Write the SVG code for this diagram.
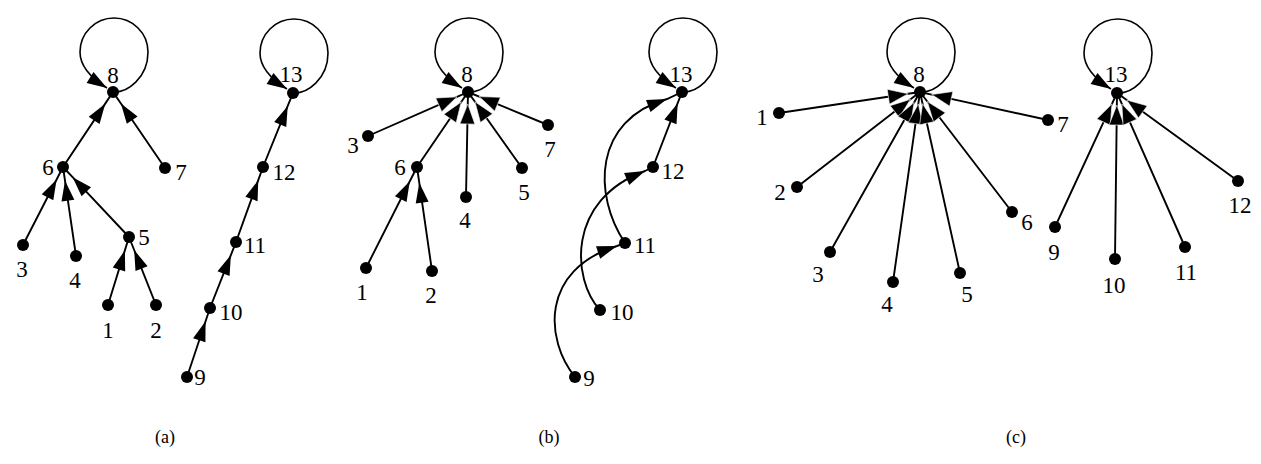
<svg xmlns="http://www.w3.org/2000/svg" width="1261" height="464" viewBox="0 0 1261 464">
<style>
.e{fill:none;stroke:#000;stroke-width:1.9;marker-mid:url(#ah)}
.ew{fill:none;stroke:#000;stroke-width:1.9;marker-mid:url(#ahw)}
.lp{fill:none;stroke:#000;stroke-width:1.6;marker-end:url(#ah)}
.n circle{fill:#000}
.n text,.cap{font-family:"Liberation Serif","Times New Roman",serif;font-size:23px;fill:#000;text-anchor:middle}
.cap{font-size:18px}
</style>
<defs>
<marker id="ah" markerUnits="userSpaceOnUse" viewBox="0 0 20 13" refX="20" refY="6.5" markerWidth="20" markerHeight="13" orient="auto" overflow="visible"><path d="M0,0 L20,6.5 L0,13 z" fill="#000"/></marker>
<marker id="ahw" markerUnits="userSpaceOnUse" viewBox="0 0 20 15" refX="20" refY="7.5" markerWidth="20" markerHeight="15" orient="auto" overflow="visible"><path d="M0,0 L20,7.5 L0,15 z" fill="#000" stroke="#fff" stroke-width="0.6"/></marker>
</defs>
<g id="connectors">
<!-- panel a -->
<path class="e" d="M63,167 L105.23,103.65 L113,92"/>
<path class="e" d="M165,168 L120.91,103.55 L113,92"/>
<path class="e" d="M23,245 L56.62,179.45 L63,167"/>
<path class="e" d="M76,256 L65.03,180.86 L63,167"/>
<path class="e" d="M129,237 L72.6,177.19 L63,167"/>
<path class="e" d="M108,305 L124.87,250.37 L129,237"/>
<path class="e" d="M156,305 L134.17,250.01 L129,237"/>
<path class="e" d="M187,377 L205.58,321.29 L210,308"/>
<path class="e" d="M210,308 L230.86,255.03 L236,242"/>
<path class="e" d="M236,242 L258.25,180.17 L263,167"/>
<path class="e" d="M263,167 L287.74,105.98 L293,93"/>
<path class="lp" d="M113,92 C127,93 148,78 148,52 A34 34 0 0 0 80,52 C80,67 91,78 107,88"/>
<path class="lp" d="M293,93 C307,94 328,79 328,53 A34 34 0 0 0 260,53 C260,68 271,79 287,89"/>
<!-- panel b -->
<path class="ew" d="M368,136 L457.02,96.83 L468,92"/>
<path class="ew" d="M417,167 L461.25,101.92 L468,92"/>
<path class="ew" d="M466,197 L467.77,104 L468,92"/>
<path class="ew" d="M522,168 L474.95,101.79 L468,92"/>
<path class="ew" d="M548,125 L479.1,96.58 L468,92"/>
<path class="e" d="M366,268 L409.78,181.29 L417,167"/>
<path class="e" d="M432,271 L419.29,182.84 L417,167"/>
<path class="e" d="M653,167 L677.67,103.19 L682,92"/>
<path class="e" d="M575,377 C545,340 540,270 617,246 L625,243"/>
<path class="e" d="M600,310 C572,280 566,200 645,171 L653,167"/>
<path class="e" d="M625,243 C593,195 593,120 667,99 L682,92"/>
<path class="lp" d="M468,92 C482,93 503,78 503,52 A34 34 0 0 0 435,52 C435,67 446,78 462,88"/>
<path class="lp" d="M682,92 C696,93 717,78 717,52 A34 34 0 0 0 649,52 C649,67 660,78 676,88"/>
<!-- panel c -->
<path class="ew" d="M779,113 L908.13,93.77 L920,92"/>
<path class="ew" d="M797,187 L910.5,99.34 L920,92"/>
<path class="ew" d="M830,252 L914.12,102.46 L920,92"/>
<path class="ew" d="M893,282 L918.31,103.88 L920,92"/>
<path class="ew" d="M960,273 L922.59,103.72 L920,92"/>
<path class="ew" d="M1012,212 L927.3,101.52 L920,92"/>
<path class="ew" d="M1048,120 L931.72,94.57 L920,92"/>
<path class="ew" d="M1055,227 L1111.96,103.89 L1117,93"/>
<path class="ew" d="M1115,259 L1116.86,105 L1117,93"/>
<path class="ew" d="M1185,247 L1121.85,103.98 L1117,93"/>
<path class="ew" d="M1238,181 L1126.71,100.06 L1117,93"/>
<path class="lp" d="M920,92 C934,93 955,78 955,52 A34 34 0 0 0 887,52 C887,67 898,78 914,88"/>
<path class="lp" d="M1117,93 C1131,94 1152,79 1152,53 A34 34 0 0 0 1084,53 C1084,68 1095,79 1111,89"/>
</g>
<!-- panel a nodes -->
<g id="a8" class="n"><circle cx="113" cy="92" r="6"/><text x="113" y="83">8</text></g>
<g id="a6" class="n"><circle cx="63" cy="167" r="6"/><text x="48" y="175">6</text></g>
<g id="a7" class="n"><circle cx="165" cy="168" r="6"/><text x="181" y="180">7</text></g>
<g id="a3" class="n"><circle cx="23" cy="245" r="6"/><text x="22" y="277">3</text></g>
<g id="a4" class="n"><circle cx="76" cy="256" r="6"/><text x="75" y="288">4</text></g>
<g id="a5" class="n"><circle cx="129" cy="237" r="6"/><text x="144" y="245">5</text></g>
<g id="a1" class="n"><circle cx="108" cy="305" r="6"/><text x="108" y="338">1</text></g>
<g id="a2" class="n"><circle cx="156" cy="305" r="6"/><text x="156" y="338">2</text></g>
<g id="a13" class="n"><circle cx="293" cy="93" r="6"/><text x="291" y="82">13</text></g>
<g id="a12" class="n"><circle cx="263" cy="167" r="6"/><text x="284" y="180">12</text></g>
<g id="a11" class="n"><circle cx="236" cy="242" r="6"/><text x="255" y="253">11</text></g>
<g id="a10" class="n"><circle cx="210" cy="308" r="6"/><text x="231" y="320">10</text></g>
<g id="a9" class="n"><circle cx="187" cy="377" r="6"/><text x="200" y="385">9</text></g>
<!-- panel b nodes -->
<g id="b8" class="n"><circle cx="468" cy="92" r="6"/><text x="467" y="82">8</text></g>
<g id="b3" class="n"><circle cx="368" cy="136" r="6"/><text x="353" y="153">3</text></g>
<g id="b6" class="n"><circle cx="417" cy="167" r="6"/><text x="400" y="175">6</text></g>
<g id="b4" class="n"><circle cx="466" cy="197" r="6"/><text x="465" y="228">4</text></g>
<g id="b5" class="n"><circle cx="522" cy="168" r="6"/><text x="524" y="200">5</text></g>
<g id="b7" class="n"><circle cx="548" cy="125" r="6"/><text x="550" y="157">7</text></g>
<g id="b1" class="n"><circle cx="366" cy="268" r="6"/><text x="362" y="300">1</text></g>
<g id="b2" class="n"><circle cx="432" cy="271" r="6"/><text x="431" y="303">2</text></g>
<g id="b13" class="n"><circle cx="682" cy="92" r="6"/><text x="681" y="82">13</text></g>
<g id="b12" class="n"><circle cx="653" cy="167" r="6"/><text x="673" y="179">12</text></g>
<g id="b11" class="n"><circle cx="625" cy="243" r="6"/><text x="645" y="253">11</text></g>
<g id="b10" class="n"><circle cx="600" cy="310" r="6"/><text x="622" y="320">10</text></g>
<g id="b9" class="n"><circle cx="575" cy="377" r="6"/><text x="589" y="386">9</text></g>
<!-- panel c nodes -->
<g id="c8" class="n"><circle cx="920" cy="92" r="6"/><text x="919" y="82">8</text></g>
<g id="c1" class="n"><circle cx="779" cy="113" r="6"/><text x="762" y="125">1</text></g>
<g id="c2" class="n"><circle cx="797" cy="187" r="6"/><text x="780" y="200">2</text></g>
<g id="c3" class="n"><circle cx="830" cy="252" r="6"/><text x="818" y="282">3</text></g>
<g id="c4" class="n"><circle cx="893" cy="282" r="6"/><text x="887" y="312">4</text></g>
<g id="c5" class="n"><circle cx="960" cy="273" r="6"/><text x="967" y="302">5</text></g>
<g id="c6" class="n"><circle cx="1012" cy="212" r="6"/><text x="1027" y="230">6</text></g>
<g id="c7" class="n"><circle cx="1048" cy="120" r="6"/><text x="1063" y="132">7</text></g>
<g id="c13" class="n"><circle cx="1117" cy="93" r="6"/><text x="1116" y="82">13</text></g>
<g id="c9" class="n"><circle cx="1055" cy="227" r="6"/><text x="1054" y="260">9</text></g>
<g id="c10" class="n"><circle cx="1115" cy="259" r="6"/><text x="1114" y="293">10</text></g>
<g id="c11" class="n"><circle cx="1185" cy="247" r="6"/><text x="1186" y="280">11</text></g>
<g id="c12" class="n"><circle cx="1238" cy="181" r="6"/><text x="1240" y="213">12</text></g>
<g id="captions">
<text class="cap" x="165" y="443">(a)</text>
<text class="cap" x="549" y="443">(b)</text>
<text class="cap" x="1016" y="443">(c)</text>
</g>
</svg>
